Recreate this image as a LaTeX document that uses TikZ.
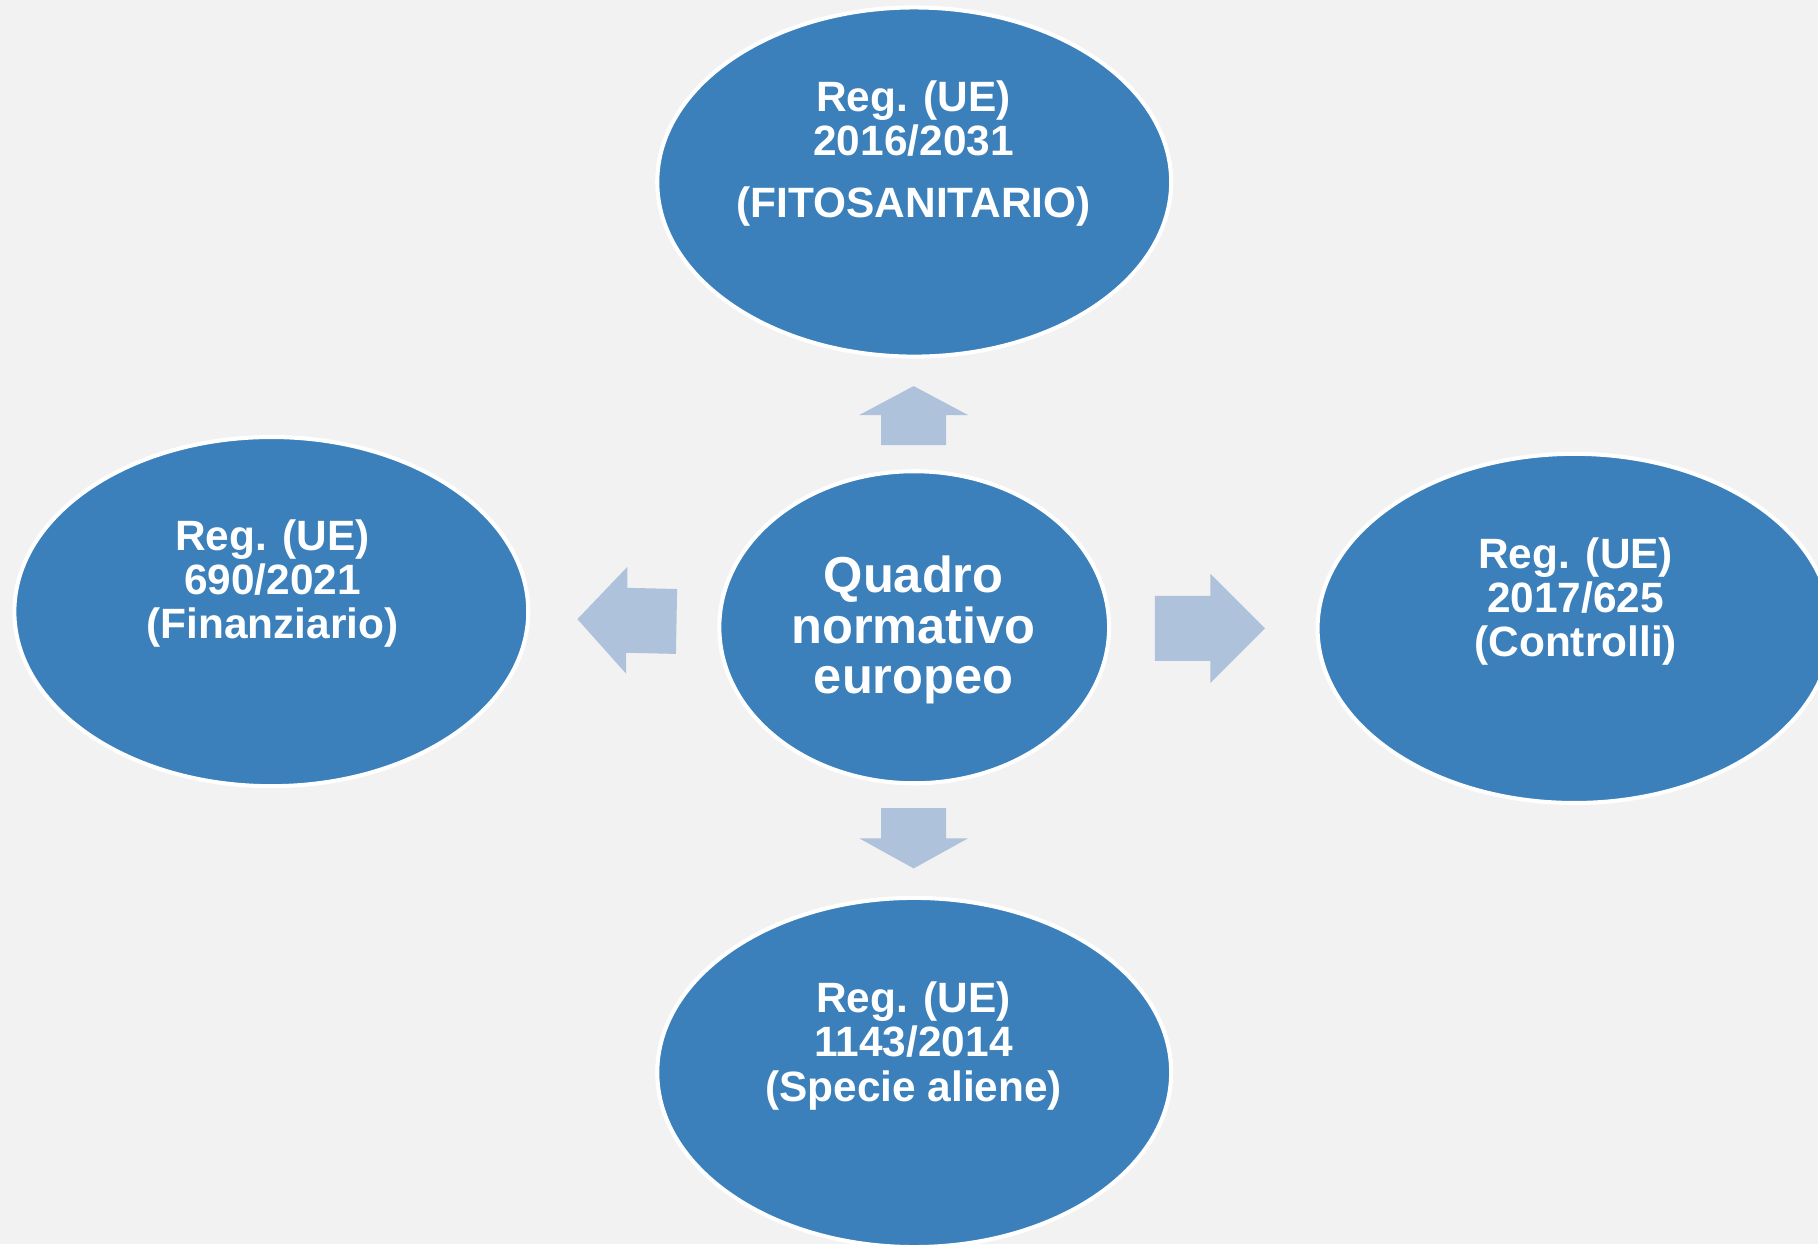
\documentclass[tikz,border=0pt]{standalone}
\usepackage{fontspec}
\setmainfont{Liberation Sans}
\usetikzlibrary{shapes.geometric}
\definecolor{bg}{RGB}{242,242,242}
\definecolor{blob}{RGB}{59,128,186}
\definecolor{arrowc}{RGB}{175,194,219}
\tikzset{
  blobshape/.style={ellipse, fill=blob, draw=white, line width=1.0pt, inner sep=0pt},
  bigblob/.style={blobshape, minimum width=4.43cm, minimum height=3.01cm},
  regtext/.style={text=white, font=\fontsize{10.4pt}{10.6pt}\selectfont\bfseries, anchor=base, inner sep=0pt},
  maintext/.style={text=white, font=\fontsize{12.4pt}{12.8pt}\selectfont\bfseries, anchor=base, inner sep=0pt},
  blockarrow/.style={fill=arrowc, draw=none}
}
\begin{document}
\begin{tikzpicture}[x=0.01cm, y=-0.01cm]
\useasboundingbox (0,0) rectangle (1568,1073);
\fill[bg] (0,0) rectangle (1568,1073);
\clip (0,0) rectangle (1568,1073);

% ellipses
\node[bigblob] (top) at (788.5,157) {};
\node[bigblob] (left) at (234,527.5) {};
\node[bigblob] (right) at (1358,542) {};
\node[bigblob] (bottom) at (788.5,925) {};
\node[blobshape, minimum width=3.36cm, minimum height=2.69cm] (center) at (788.5,541) {};

% block arrows
\fill[blockarrow] (760,384) -- (760,358) -- (741,358) -- (788,333) -- (835,358) -- (816,358) -- (816,384) -- cycle;
\fill[blockarrow] (760,697) -- (816,697) -- (816,723) -- (835,723) -- (788,749) -- (741,723) -- (760,723) -- cycle;
\fill[blockarrow] (996,514) -- (1044,514) -- (1044,495) -- (1091,542) -- (1044,589) -- (1044,570) -- (996,570) -- cycle;
\fill[blockarrow] (584,508) -- (541,507) -- (541,489) -- (498,534) -- (540,581) -- (540,563) -- (583,564) -- cycle;

% texts
\node[regtext] (topA) at (788,96) {Reg. (UE)};
\node[regtext] (topB) at (788,134) {2016/2031};
\node[regtext] (topC) at (788,188) {(FITOSANITARIO)};

\node[regtext] (leftA) at (235,475) {Reg. (UE)};
\node[regtext] (leftB) at (235,513) {690/2021};
\node[regtext] (leftC) at (235,551) {(Finanziario)};

\node[regtext] (rightA) at (1359,490) {Reg. (UE)};
\node[regtext] (rightB) at (1359,528) {2017/625};
\node[regtext] (rightC) at (1359,566) {(Controlli)};

\node[regtext] (bottomA) at (788,873) {Reg. (UE)};
\node[regtext] (bottomB) at (788,911) {1143/2014};
\node[regtext] (bottomC) at (788,950) {(Specie aliene)};

\node[maintext] (centerA) at (788,511) {Quadro};
\node[maintext] (centerB) at (788,555) {normativo};
\node[maintext] (centerC) at (788,598) {europeo};
\end{tikzpicture}
\end{document}
